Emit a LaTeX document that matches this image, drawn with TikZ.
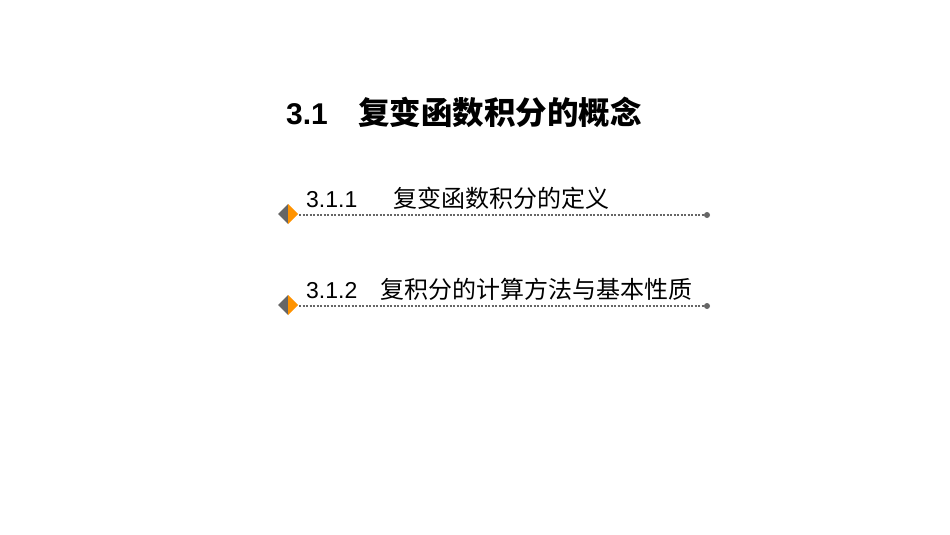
\documentclass[tikz,border=0pt]{standalone}
\usepackage{fontspec}
\setmainfont{Liberation Sans}
\newfontfamily\cjk{Noto Sans CJK SC}
\begin{document}
\begin{tikzpicture}[x=1pt,y=-1pt,
  num/.style={anchor=base west,inner sep=0pt,font=\fontsize{23}{23}\selectfont},
  zh/.style={anchor=base west,inner sep=0pt,font=\cjk\fontsize{24}{24}\selectfont},
  dots/.style={line width=2pt,dash pattern=on 2pt off 1.5pt,color=gray!80!black}]
\useasboundingbox[fill=white] (0,0) rectangle (950,535);
\node[anchor=base west,inner sep=0pt,font=\bfseries\fontsize{30}{30}\selectfont] (t1) at (286,124) {3.1};
\node[anchor=base west,inner sep=0pt,font=\cjk\bfseries\fontsize{31.5}{31.5}\selectfont] (t2) at (358,124) {复变函数积分的概念};
\foreach \y/\n/\nx/\txt [count=\i] in {214/3.1.1/393/复变函数积分的定义, 305/3.1.2/380/复积分的计算方法与基本性质}{
  \fill[gray!80!black] (288,\y-10) -- (278,\y) -- (288,\y+10) -- cycle;
  \fill[orange!85!yellow] (288,\y-10) -- (298,\y) -- (288,\y+10) -- cycle;
  \coordinate (s\i) at (299,\y+1);
  \node[circle,fill=gray!80!black,inner sep=0pt,minimum size=6pt] (e\i) at (707,\y+1) {};
  \draw[dots] (s\i) -- (e\i);
  \node[num] (n\i) at (306,\y-7) {\n};
  \node[zh] (z\i) at (\nx,\y-7) {\txt};
}
\end{tikzpicture}
\end{document}
